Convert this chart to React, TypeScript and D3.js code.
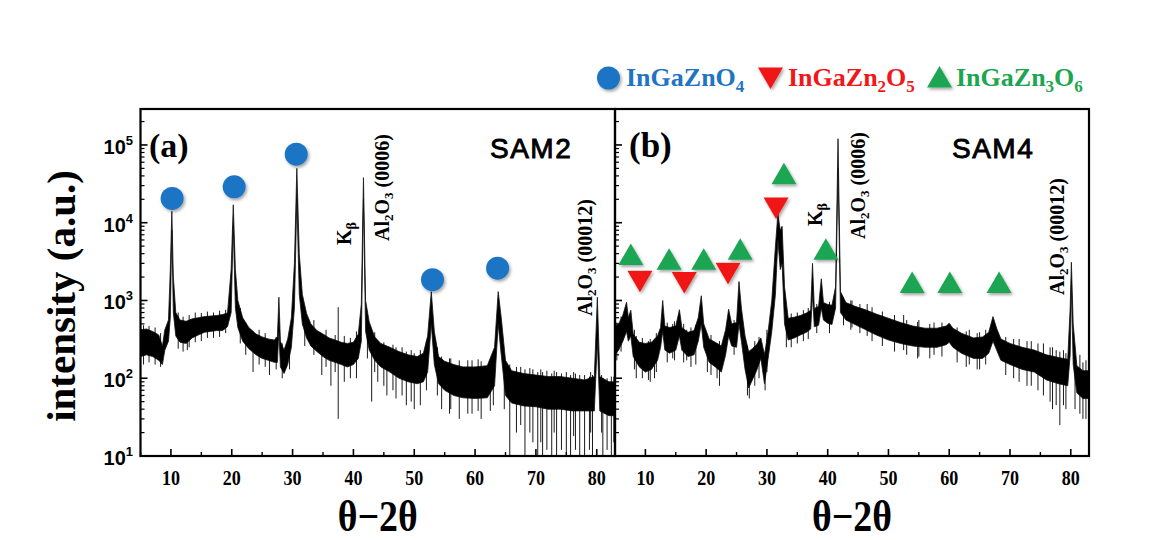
import React from "react";
import * as d3 from "d3";

// ---------- data ----------
const X_DOMAIN: [number, number] = [5, 83];
const Y_DOMAIN: [number, number] = [10, 2.9e5];
const xTickValues = [10, 20, 30, 40, 50, 60, 70, 80];
const xMinorValues = [5, 15, 25, 35, 45, 55, 65, 75];
const yTickExponents = [1, 2, 3, 4, 5];

// SAM2 : noise band [2θ, low, high]
const bandA: [number, number, number][] = [
  [5.0, 190, 420], [6.0, 200, 430], [7.0, 190, 400], [8.0, 170, 360], [8.6, 150, 260],
  [9.0, 230, 420], [9.6, 300, 560], [9.9, 600, 2500], [10.15, 8000, 14000], [10.4, 700, 2000],
  [10.8, 350, 700], [11.5, 290, 560], [12.5, 280, 540], [13.5, 330, 580], [14.5, 360, 600],
  [15.5, 390, 620], [16.5, 400, 630], [17.5, 410, 640], [18.5, 410, 660], [19.3, 460, 690],
  [19.9, 700, 2500], [20.25, 9000, 17000], [20.6, 800, 2500], [21.0, 450, 1000], [21.8, 300, 600],
  [22.8, 240, 450], [24.0, 200, 370], [25.0, 180, 340], [26.0, 170, 320], [27.0, 160, 310],
  [27.5, 160, 340], [27.75, 400, 1100], [28.0, 140, 300], [28.6, 115, 230], [29.2, 150, 320],
  [29.8, 250, 600], [30.3, 800, 3000], [30.7, 20000, 50000], [31.1, 1200, 4000], [31.6, 500, 1200],
  [32.3, 330, 680], [33.0, 260, 500], [34.0, 220, 410], [35.0, 190, 370], [36.0, 170, 330],
  [37.0, 160, 310], [38.0, 150, 290], [39.0, 140, 280], [40.0, 150, 290], [40.8, 180, 370],
  [41.3, 300, 900], [41.65, 20000, 38000], [42.0, 400, 1000], [42.6, 230, 530], [43.5, 170, 340],
  [44.5, 140, 280], [46.0, 120, 250], [47.5, 100, 220], [49.0, 90, 200], [50.5, 85, 190],
  [51.5, 90, 210], [52.2, 120, 350], [52.8, 500, 1300], [53.3, 150, 400], [54.0, 85, 190],
  [55.0, 70, 165], [56.5, 60, 150], [58.0, 56, 140], [60.0, 55, 140], [62.0, 56, 145],
  [63.2, 80, 250], [63.8, 500, 1300], [64.3, 200, 600], [65.0, 60, 170], [66.0, 48, 125],
  [68.0, 44, 115], [70.0, 43, 110], [72.0, 40, 105], [74.0, 40, 105], [76.0, 38, 100],
  [78.0, 38, 95], [79.6, 38, 105], [80.1, 300, 1100], [80.5, 38, 105], [82.0, 33, 90],
  [83.0, 33, 90],
];
// SAM2 : isolated spikes [2θ, low, high]
const spikesA: [number, number, number][] = [
  [37.5, 30, 820], [43.0, 50, 300], [12.7, 230, 500], [23.5, 120, 400], [26.2, 110, 300],
  [34.8, 110, 350], [36.3, 80, 300], [38.5, 90, 350], [40.5, 100, 400], [44.0, 90, 300],
  [45.5, 60, 250], [47.0, 55, 250], [48.7, 45, 220], [50.0, 40, 210], [51.0, 45, 230],
  [54.5, 40, 190], [55.8, 35, 180], [57.4, 30, 170], [58.8, 35, 170], [61.0, 30, 165],
  [62.5, 38, 170], [65.7, 10, 150], [66.8, 20, 140], [68.2, 10, 130], [69.5, 15, 130],
  [70.3, 10, 120], [71.1, 10, 120], [71.8, 12, 125], [72.6, 10, 115], [73.4, 10, 120],
  [74.2, 12, 115], [75.0, 10, 120], [75.7, 10, 110], [76.5, 12, 115], [77.2, 10, 110],
  [78.0, 10, 110], [78.8, 12, 105], [79.3, 10, 110], [81.0, 10, 100], [81.7, 12, 100],
  [82.4, 10, 105],
  [5.5, 150, 480], [6.4, 160, 470], [7.4, 150, 450], [8.3, 140, 380], [11.2, 240, 700],
  [12.0, 220, 620], [13.0, 250, 650], [14.0, 290, 700], [15.0, 300, 690], [16.0, 330, 720],
  [17.0, 330, 700], [18.0, 340, 740], [19.0, 380, 760], [21.4, 280, 800], [22.3, 200, 520],
  [24.5, 150, 420], [25.5, 140, 380], [27.3, 130, 340], [28.3, 100, 280], [29.5, 130, 400],
  [32.0, 260, 760], [33.5, 200, 560], [35.5, 140, 420], [37.0, 120, 360], [39.5, 100, 330],
  [42.3, 180, 620], [43.5, 120, 390], [45.0, 80, 290], [46.5, 70, 270], [48.0, 60, 250],
  [49.5, 50, 230], [52.0, 70, 300], [53.8, 60, 250], [56.0, 40, 180], [59.5, 35, 170],
  [60.5, 38, 175], [63.0, 45, 200], [64.8, 40, 200], [67.5, 25, 140], [69.0, 20, 135],
  [70.8, 15, 130], [73.0, 20, 125], [76.2, 18, 120], [79.0, 20, 120], [80.8, 20, 110],
  [82.8, 15, 105],
];

// SAM4 : noise band [2θ, low, high]
const bandB: [number, number, number][] = [
  [5.0, 200, 460], [5.6, 230, 500], [6.3, 300, 650], [6.9, 400, 950], [7.2, 300, 600],
  [7.6, 350, 750], [8.0, 190, 370], [9.0, 140, 290], [10.0, 120, 280], [11.0, 130, 290],
  [12.0, 170, 350], [12.5, 250, 450], [12.85, 400, 1000], [13.2, 230, 470], [14.0, 210, 450],
  [15.0, 230, 470], [15.6, 350, 760], [16.0, 230, 450], [17.0, 190, 390], [18.0, 200, 410],
  [18.7, 300, 600], [19.2, 500, 1150], [19.6, 250, 500], [20.5, 160, 320], [21.5, 140, 290],
  [22.5, 120, 260], [23.2, 200, 420], [23.7, 350, 770], [24.2, 260, 500], [25.0, 250, 520],
  [25.4, 500, 1750], [25.8, 300, 800], [26.4, 130, 350], [27.0, 75, 220], [27.6, 95, 240],
  [28.3, 125, 270], [29.0, 180, 330], [29.6, 85, 200], [30.2, 180, 400], [30.8, 400, 1000],
  [31.4, 1200, 5000], [31.8, 6000, 13000], [32.2, 2500, 8000], [32.5, 3000, 9000], [32.9, 500, 1500],
  [33.5, 310, 590], [34.5, 330, 610], [35.5, 360, 640], [36.5, 390, 690], [37.2, 430, 750],
  [37.5, 1200, 3000], [37.8, 460, 790], [38.5, 480, 840], [38.95, 800, 1900], [39.3, 560, 940],
  [40.0, 510, 890], [40.7, 490, 870], [41.3, 800, 1500], [41.7, 50000, 120000], [42.1, 700, 1300],
  [43.0, 560, 940], [44.5, 490, 840], [46.0, 430, 770], [48.0, 360, 670], [50.0, 310, 590],
  [52.0, 280, 520], [54.0, 260, 470], [56.0, 250, 440], [58.0, 250, 440], [59.5, 270, 470],
  [60.0, 290, 510], [60.6, 250, 440], [62.0, 210, 380], [64.0, 180, 330], [65.5, 180, 340],
  [66.5, 210, 390], [67.2, 300, 620], [67.8, 230, 440], [68.5, 170, 320], [70.0, 150, 280],
  [72.0, 130, 250], [74.0, 120, 230], [76.0, 95, 200], [78.0, 85, 185], [79.5, 80, 175],
  [79.9, 200, 800], [80.1, 1500, 3100], [80.4, 150, 500], [81.0, 65, 145], [82.0, 55, 125],
  [83.0, 55, 125],
];
const spikesB: [number, number, number][] = [
  [8.5, 100, 350], [10.5, 95, 300], [11.5, 100, 320], [14.5, 180, 500], [16.8, 170, 420],
  [20.2, 120, 350], [21.8, 100, 280], [27.1, 55, 200], [29.7, 70, 220], [33.2, 250, 700],
  [44.0, 450, 1000], [46.5, 350, 900], [52.5, 230, 650], [55.0, 190, 560], [57.5, 200, 520],
  [63.3, 150, 420], [64.6, 130, 380], [71.5, 90, 320], [73.5, 80, 300], [75.5, 60, 280],
  [77.0, 40, 250], [78.2, 25, 220], [78.8, 45, 230], [81.5, 35, 200], [82.5, 30, 170],
  [5.3, 170, 520], [6.0, 220, 620], [8.2, 130, 420], [9.5, 100, 330], [10.8, 90, 320],
  [11.8, 120, 380], [13.6, 160, 520], [14.8, 170, 540], [16.3, 160, 500], [17.5, 140, 450],
  [18.3, 150, 480], [20.8, 110, 360], [22.2, 80, 300], [24.6, 200, 560], [26.8, 60, 260],
  [28.0, 80, 300], [28.7, 100, 340], [30.0, 120, 420], [34.0, 250, 680], [35.0, 280, 700],
  [36.0, 300, 750], [36.8, 320, 800], [38.2, 380, 900], [40.3, 380, 960], [42.6, 480, 1100],
  [43.8, 420, 1000], [45.3, 380, 900], [47.3, 300, 820], [49.0, 260, 720], [51.0, 220, 650],
  [53.0, 200, 560], [54.8, 180, 530], [56.8, 180, 500], [58.8, 190, 520], [61.3, 160, 450],
  [62.8, 140, 400], [65.0, 130, 390], [66.0, 150, 420], [69.3, 110, 340], [70.6, 100, 320],
  [72.8, 80, 300], [74.6, 70, 280], [76.6, 50, 250], [77.6, 45, 230], [79.2, 40, 210],
  [80.7, 40, 180], [82.0, 30, 160],
];

// phase markers [2θ, intensity]
const circlesA: [number, number][] = [[10.2, 20500], [20.4, 29000], [30.6, 76000], [53.0, 1850], [63.7, 2600]];
const trianglesUpB: [number, number][] = [
  [7.6, 3900], [13.9, 3400], [19.6, 3400], [25.6, 4550], [32.8, 42600], [39.7, 4550],
  [53.9, 1700], [60.1, 1700], [68.2, 1700],
];
const trianglesDownB: [number, number][] = [[9.1, 1770], [16.4, 1700], [23.6, 2240], [31.5, 15500]];

const BLUE = "#1f74c4";
const RED = "#f01818";
const GREEN = "#1ea552";

export default function App() {
  const W = 1176, H = 540;
  const top = 109, bottom = 456;
  const panels = [
    { x0: 140.5, x1: 615, band: bandA, spikes: spikesA, id: "a", showYLabels: true },
    { x0: 615, x1: 1089, band: bandB, spikes: spikesB, id: "b", showYLabels: false },
  ];
  const y = d3.scaleLog().domain(Y_DOMAIN).range([bottom, top]);
  const minorY: number[] = [];
  for (let e = 1; e <= 5; e++) for (let m = 2; m <= 9; m++) {
    const v = m * Math.pow(10, e);
    if (v <= Y_DOMAIN[1]) minorY.push(v);
  }
  const serif = "'Liberation Serif', 'Times New Roman', serif";
  const sans = "'Liberation Sans', Arial, sans-serif";

  const rendered = panels.map((p) => {
    const x = d3.scaleLinear().domain(X_DOMAIN).range([p.x0, p.x1]);
    const area = d3.area<[number, number, number]>()
      .x((d) => x(d[0])).y0((d) => y(d[1])).y1((d) => y(d[2]));
    return (
      <g key={p.id}>
        <defs>
          <clipPath id={`clip-${p.id}`}>
            <rect x={p.x0} y={top} width={p.x1 - p.x0} height={bottom - top} />
          </clipPath>
        </defs>
        <g clipPath={`url(#clip-${p.id})`}>
          <path d={area(p.band) || ""} fill="#000" stroke="#111" strokeWidth={0.8} strokeLinejoin="round" />
          {p.spikes.map((s, i) => (
            <line key={i} x1={x(s[0])} x2={x(s[0])} y1={y(s[1])} y2={y(s[2])} stroke="#000" strokeWidth={0.9} />
          ))}
        </g>
        {/* x ticks */}
        {xTickValues.map((v) => (
          <g key={v}>
            <line x1={x(v)} x2={x(v)} y1={bottom} y2={bottom - 7} stroke="#000" strokeWidth={1.6} />
            <text transform={`translate(${x(v)},485) scale(0.82,1)`} textAnchor="middle" fontFamily={serif}
              fontWeight="bold" fontSize={22}>{v}</text>
          </g>
        ))}
        {xMinorValues.map((v) => (
          <line key={v} x1={x(v)} x2={x(v)} y1={bottom} y2={bottom - 4} stroke="#000" strokeWidth={1.4} />
        ))}
        {/* y ticks */}
        {yTickExponents.map((e) => (
          <g key={e}>
            <line x1={p.x0} x2={p.x0 + 7} y1={y(Math.pow(10, e))} y2={y(Math.pow(10, e))} stroke="#000" strokeWidth={1.6} />
            {p.showYLabels && (
              <text x={133} y={y(Math.pow(10, e)) + 9} textAnchor="end" fontFamily={sans} fontWeight="bold" fontSize={20}>
                10<tspan fontSize={13} dy={-9}>{e}</tspan>
              </text>
            )}
          </g>
        ))}
        {minorY.map((v) => (
          <line key={v} x1={p.x0} x2={p.x0 + 4} y1={y(v)} y2={y(v)} stroke="#000" strokeWidth={1.2} />
        ))}
        {/* x axis title */}
        <text transform={`translate(${(p.x0 + p.x1) / 2},531) scale(0.86,1)`} textAnchor="middle" fontFamily={serif}
          fontWeight="bold" fontSize={44}>θ−2θ</text>
      </g>
    );
  });

  const xA = d3.scaleLinear().domain(X_DOMAIN).range([panels[0].x0, panels[0].x1]);
  const xB = d3.scaleLinear().domain(X_DOMAIN).range([panels[1].x0, panels[1].x1]);

  const triUp = (cx: number, cy: number) => `M${cx},${cy - 11}L${cx + 12.5},${cy + 10.5}L${cx - 12.5},${cy + 10.5}Z`;
  const triDown = (cx: number, cy: number) => `M${cx},${cy + 11}L${cx + 12.5},${cy - 10.5}L${cx - 12.5},${cy - 10.5}Z`;

  const alLabel = (bx: number, by: number, idx: string) => (
    <text transform={`translate(${bx},${by}) rotate(-90)`} fontFamily={serif} fontWeight="bold" fontSize={20}>
      Al<tspan fontSize={13} dy={4}>2</tspan><tspan dy={-4}>O</tspan><tspan fontSize={13} dy={4}>3</tspan><tspan dy={-4}> ({idx})</tspan>
    </text>
  );
  const kbLabel = (bx: number, by: number) => (
    <text transform={`translate(${bx},${by}) rotate(-90)`} fontFamily={serif} fontWeight="bold" fontSize={20}>
      K<tspan fontSize={14} dy={5}>β</tspan>
    </text>
  );

  return (
    <svg width={W} height={H} style={{ position: "absolute", left: 0, top: 0, background: "#fff" }}>
      <defs>
        <filter id="shadow" x="-50%" y="-50%" width="200%" height="200%">
          <feDropShadow dx="1.5" dy="2" stdDeviation="1.5" floodColor="#000" floodOpacity="0.35" />
        </filter>
      </defs>
      <rect x={0} y={0} width={W} height={H} fill="#fff" />
      {rendered}
      {/* frames */}
      <rect x={140.5} y={top} width={615 - 140.5} height={bottom - top} fill="none" stroke="#000" strokeWidth={2.2} />
      <rect x={615} y={top} width={1089 - 615} height={bottom - top} fill="none" stroke="#000" strokeWidth={2.2} />

      {/* y axis title */}
      <text transform={`translate(75,296) rotate(-90)`} textAnchor="middle" fontFamily={serif} fontWeight="bold" fontSize={41}>
        intensity (a.u.)
      </text>

      {/* panel labels */}
      <text x={149} y={157} fontFamily={serif} fontWeight="bold" fontSize={34}>(a)</text>
      <text x={629} y={157} fontFamily={serif} fontWeight="bold" fontSize={35}>(b)</text>
      <text x={490} y={158} fontFamily={sans} fontSize={28} stroke="#000" strokeWidth={0.9} letterSpacing={1.5}>SAM2</text>
      <text x={952} y={158} fontFamily={sans} fontSize={28} stroke="#000" strokeWidth={0.9} letterSpacing={1.5}>SAM4</text>

      {/* peak annotations */}
      {kbLabel(351, 245)}
      {alLabel(389, 241, "0006")}
      {alLabel(592, 316, "00012")}
      {kbLabel(822, 226)}
      {alLabel(865, 239, "0006")}
      {alLabel(1064, 295, "00012")}

      {/* markers */}
      <g filter="url(#shadow)">
        {circlesA.map((c, i) => (
          <circle key={i} cx={xA(c[0])} cy={y(c[1])} r={11.5} fill={BLUE} />
        ))}
        {trianglesUpB.map((c, i) => (
          <path key={`u${i}`} d={triUp(xB(c[0]), y(c[1]))} fill={GREEN} />
        ))}
        {trianglesDownB.map((c, i) => (
          <path key={`d${i}`} d={triDown(xB(c[0]), y(c[1]))} fill={RED} />
        ))}
      </g>

      {/* legend */}
      <g filter="url(#shadow)">
        <circle cx={608.5} cy={78} r={11.5} fill={BLUE} />
        <path d={triDown(770.5, 78)} fill={RED} />
        <path d={triUp(939.5, 77)} fill={GREEN} />
      </g>
      <text x={626} y={86} fontFamily={serif} fontWeight="bold" fontSize={26} fill={BLUE}>
        InGaZnO<tspan fontSize={17} dy={6}>4</tspan>
      </text>
      <text x={788} y={86} fontFamily={serif} fontWeight="bold" fontSize={26} fill={RED}>
        InGaZn<tspan fontSize={17} dy={6}>2</tspan><tspan dy={-6}>O</tspan><tspan fontSize={17} dy={6}>5</tspan>
      </text>
      <text x={956} y={86} fontFamily={serif} fontWeight="bold" fontSize={26} fill={GREEN}>
        InGaZn<tspan fontSize={17} dy={6}>3</tspan><tspan dy={-6}>O</tspan><tspan fontSize={17} dy={6}>6</tspan>
      </text>
    </svg>
  );
}
